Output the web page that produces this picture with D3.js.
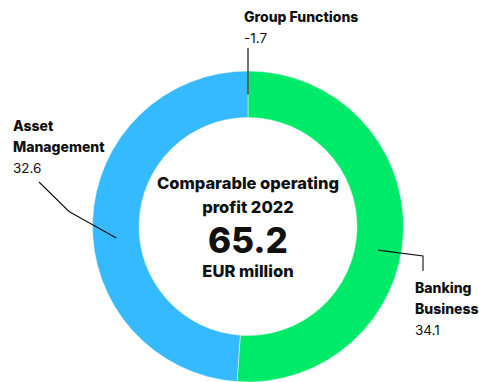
<!DOCTYPE html>
<html>
<head>
<meta charset="utf-8">
<script src="https://cdn.jsdelivr.net/npm/d3@7"></script>
<style>
  html, body { margin: 0; padding: 0; background: #fff; }
  svg { display: block; }
  text { font-family: Inter, "Liberation Sans", Arial, sans-serif; fill: #111; }
</style>
</head>
<body>
<svg id="chart" width="479" height="382"></svg>
<script>
// Comparable operating profit 2022 by segment, EUR million
const segments = ["Banking Business", "Asset Management", "Group Functions"];
const values = [34.1, 32.6, -1.7];
const colors = ["#00ea69", "#35b9ff", "#444444"];
const total = 65.2;

const W = 479, H = 382;
const cx = 248, cy = 226.5;
const outerR = 155.5, innerR = 109;

const svg = d3.select("#chart");
const g = svg.append("g").attr("transform", `translate(${cx},${cy})`);

// Only positive contributions take up ring space
const positive = segments.map((s, i) => ({ name: s, value: values[i], color: colors[i] }))
  .filter(d => d.value > 0);

const pie = d3.pie().sort(null).value(d => d.value).startAngle(0).endAngle(2 * Math.PI);
const arcs = pie(positive);
const arc = d3.arc().innerRadius(innerR).outerRadius(outerR);

g.selectAll("path.slice")
  .data(arcs)
  .join("path")
  .attr("class", "slice")
  .attr("d", arc)
  .attr("fill", d => d.data.color)
  .attr("stroke", "#e8f4f0")
  .attr("stroke-width", 0.5);

// polar helper (angle measured clockwise from 12 o'clock)
const polar = (a, r) => [Math.sin(a) * r, -Math.cos(a) * r];

// Negative segment marked as a tick at the ring's start angle
const negAngle = arcs[0].startAngle;
const nTop = polar(negAngle, outerR + 23);
const nBot = polar(negAngle, innerR + 23);
g.append("line")
  .attr("x1", nTop[0]).attr("y1", nTop[1])
  .attr("x2", nBot[0]).attr("y2", nBot[1])
  .attr("stroke", colors[2]).attr("stroke-width", 1.5);

// Leader lines
const leaderLine = d3.line();
const midR = (innerR + outerR) / 2;
const bankEnd = polar(arcs[0].startAngle + (arcs[0].endAngle - arcs[0].startAngle) * 0.545, midR);
const assetEnd = polar(arcs[1].startAngle + (arcs[1].endAngle - arcs[1].startAngle) * 0.46, midR);

g.append("path")
  .attr("d", leaderLine([bankEnd, [423 - cx, 256 - cy], [423 - cx, 271 - cy]]))
  .attr("fill", "none").attr("stroke", "#111").attr("stroke-width", 1.1);
g.append("path")
  .attr("d", leaderLine([assetEnd, [69 - cx, 211.5 - cy], [39 - cx, 182 - cy]]))
  .attr("fill", "none").attr("stroke", "#111").attr("stroke-width", 1.1);

// Segment labels (hyphen-minus for negatives)
const fmt = v => d3.format(".1f")(v).replace("\u2212", "-");
function label(x, y, lines, value) {
  const t = svg.append("g");
  lines.forEach((l, i) => {
    t.append("text").attr("x", x).attr("y", y + i * 21.5)
      .attr("font-size", 14).attr("font-weight", 800).text(l);
  });
  t.append("text").attr("x", x).attr("y", y + lines.length * 21.5 - 0.5)
    .attr("font-size", 13.5).attr("font-weight", 400).attr("fill", "#222").text(fmt(value));
}
label(244, 21.5, ["Group Functions"], values[2]);
label(13, 130.5, ["Asset", "Management"], values[1]);
label(415, 292.5, ["Banking", "Business"], values[0]);

// Centre title
const centre = svg.append("g").attr("text-anchor", "middle");
centre.append("text").attr("x", cx).attr("y", 189).attr("font-size", 16.5).attr("font-weight", 800)
  .text("Comparable operating");
centre.append("text").attr("x", cx).attr("y", 213).attr("font-size", 16.5).attr("font-weight", 800)
  .text("profit 2022");
centre.append("text").attr("x", cx).attr("y", 253).attr("font-size", 35).attr("font-weight", 800)
  .text(fmt(total));
centre.append("text").attr("x", cx).attr("y", 277).attr("font-size", 16.5).attr("font-weight", 800)
  .text("EUR million");
</script>
</body>
</html>
